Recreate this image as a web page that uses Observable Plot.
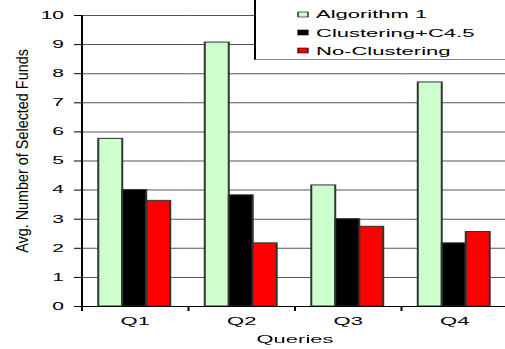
<!DOCTYPE html>
<html>
<head>
<meta charset="utf-8">
<script src="https://cdn.jsdelivr.net/npm/d3@7"></script>
<script src="https://cdn.jsdelivr.net/npm/@observablehq/plot@0.6"></script>
<style>
  html, body { margin: 0; padding: 0; background: #fff; overflow: hidden; }
  /* the chart is laid out at half width and stretched horizontally */
  #wrap { position: relative; width: 254px; height: 349px; transform: scaleX(2); transform-origin: 0 0; }
  #legend {
    position: absolute; left: 127px; top: -2px; width: 140px; height: 62px;
    box-sizing: border-box; border: 1px solid #000; border-bottom-color: #888;
    background: #fff; padding: 6px 0 0 21px;
  }
  #legend > div { margin: 0 !important; font: 11px "Liberation Sans", Arial, sans-serif !important; color: #000; }
  #legend > div > div { height: 18.4px; padding: 0 !important; display: flex; align-items: center; }
  #legend svg { margin-right: 4px !important; }
  #legend rect { stroke: #000; stroke-width: 0.6px; }
</style>
</head>
<body>
<div id="wrap"><div id="legend"></div></div>
<script>
const queries = ["Q1", "Q2", "Q3", "Q4"];
const seriesNames = ["Algorithm 1", "Clustering+C4.5", "No-Clustering"];
const algorithm1 = [5.76, 9.07, 4.16, 7.7];
const clusteringC45 = [4.0, 3.82, 3.0, 2.17];
const noClustering = [3.63, 2.17, 2.74, 2.56];
const seriesColors = ["#ccffcc", "#000000", "#ff0000"];
const yTicks = [0, 1, 2, 3, 4, 5, 6, 7, 8, 9, 10];
const yTitle = "Avg. Number of Selected Funds";
const xTitle = "Queries";

// long-format table: one row per (query, series)
const seriesValues = [algorithm1, clusteringC45, noClustering];
const rows = queries.flatMap((q, i) =>
  seriesNames.map((s, j) => ({query: q, series: s, value: seriesValues[j][i]}))
);

const W = 254, ML = 40.5, MR = 0.5;
const groupStep = (W - ML - MR) / queries.length;
const font = "'Liberation Sans', Arial, sans-serif";

const chart = Plot.plot({
  width: W,
  height: 349,
  marginLeft: ML,
  marginRight: MR,
  marginTop: 15,
  marginBottom: 43,
  style: {fontFamily: font, fontSize: "11px", background: "#fff", overflow: "visible", color: "#000"},
  fx: {domain: queries, padding: 0, round: false, label: null},
  x: {domain: seriesNames, paddingInner: 0, paddingOuter: 0.72, round: false, axis: null},
  y: {domain: [0, 10], label: null},
  color: {domain: seriesNames, range: seriesColors},
  marks: [
    Plot.gridY(yTicks, {stroke: "#555", strokeOpacity: 1}),
    Plot.barY(rows, {fx: "query", x: "series", y: "value", fill: "series", stroke: "#333", strokeWidth: 1}),
    Plot.ruleY([0], {stroke: "#000"}),
    Plot.frame({anchor: "left", facet: "super", stroke: "#000"}),
    Plot.axisY(yTicks, {tickSize: 3.5, tickPadding: 5.5, fontSize: 10.5, label: null}),
    Plot.axisFx({anchor: "bottom", tickSize: 0, tickPadding: 10.7, fontSize: 11, label: null}),
    Plot.axisFx({anchor: "bottom", tickSize: 5, tickFormat: () => "", dx: -groupStep / 2, label: null}),
    Plot.text([yTitle], {text: d => d, frameAnchor: "left", dx: -29.5, dy: -10, rotate: -90,
      textAnchor: "middle", lineAnchor: "middle", fontSize: 14.4, facet: "super", className: "y-title"}),
    Plot.text([xTitle], {text: d => d, frameAnchor: "bottom", dy: 33,
      textAnchor: "middle", lineAnchor: "middle", fontSize: 11, facet: "super"})
  ]
});

// the rotated title keeps a narrow glyph height after the horizontal stretch
chart.querySelectorAll(".y-title text").forEach(t => {
  const tr = t.getAttribute("transform") || "";
  t.setAttribute("transform", tr + " scale(1,0.55)");
});

document.getElementById("wrap").prepend(chart);

const legend = Plot.legend({
  color: {domain: seriesNames, range: seriesColors},
  legend: "swatches",
  columns: 1,
  swatchSize: 5
});
document.getElementById("legend").append(legend);
</script>
</body>
</html>
